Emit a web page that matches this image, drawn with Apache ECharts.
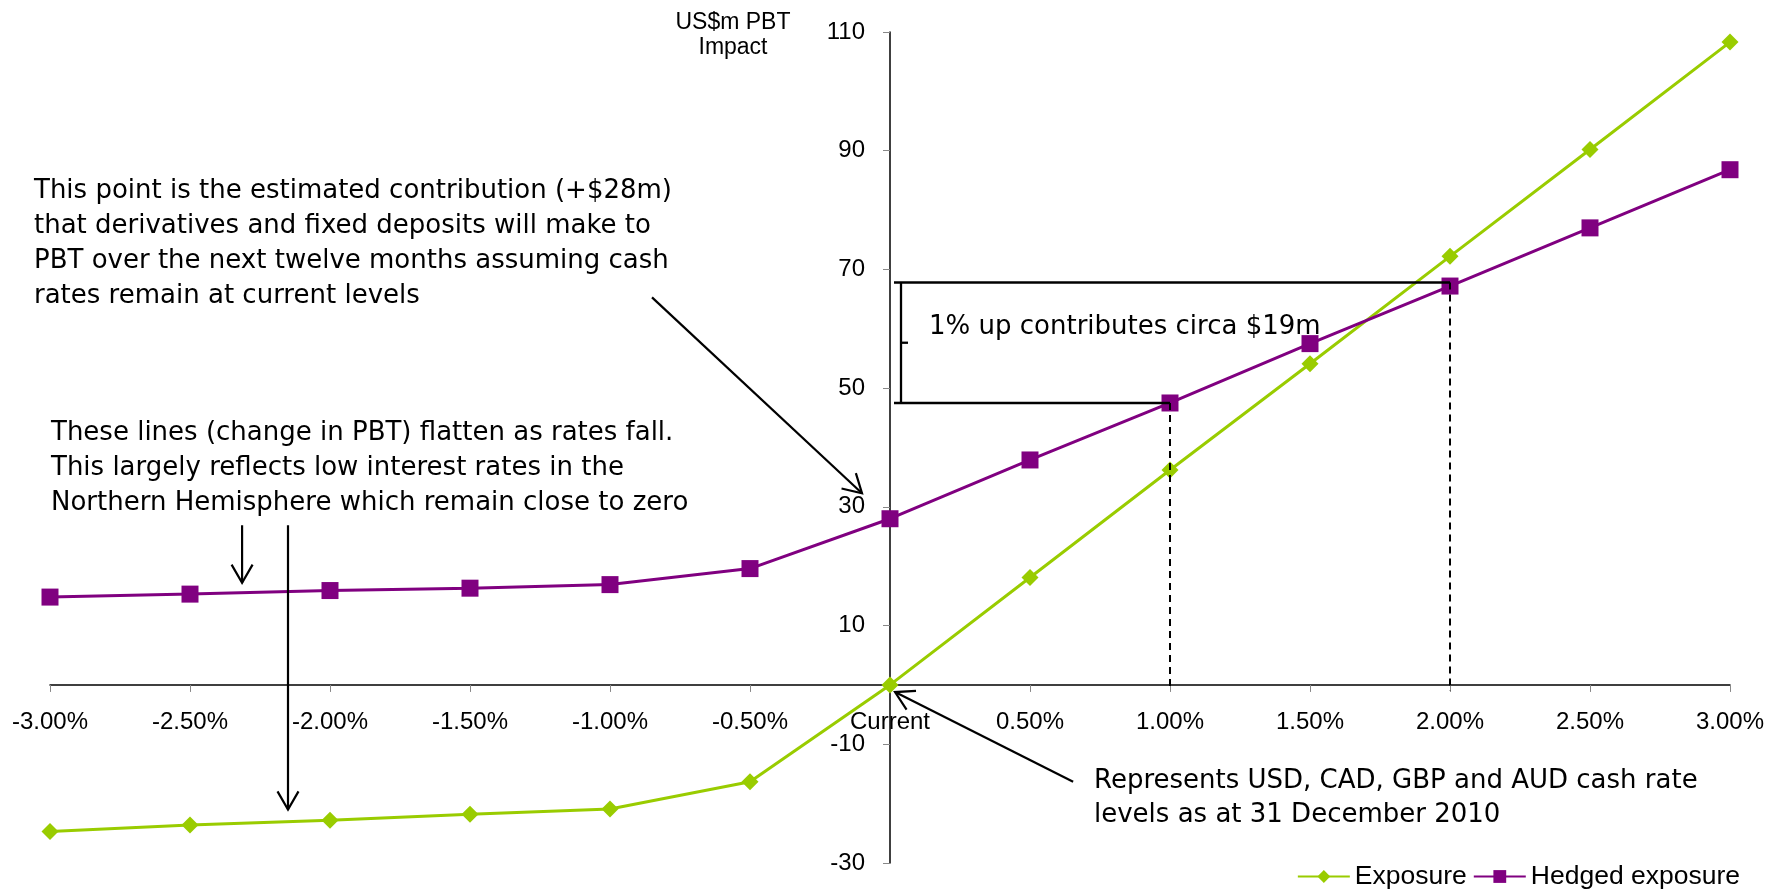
<!DOCTYPE html>
<html lang="en">
<head>
<meta charset="UTF-8">
<title>US$m PBT Impact</title>
<script src="https://cdn.jsdelivr.net/npm/echarts@6.0.0/dist/echarts.min.js"></script>
<style>
  html, body { margin: 0; padding: 0; width: 100%; height: 100%; background: #fff; overflow: hidden; }
  #chart { width: 1776px; height: 889px; }
</style>
</head>
<body>
<div id="chart"></div>
<script>
// rate moves (x) and their tick labels
var rates = [-3, -2.5, -2, -1.5, -1, -0.5, 0, 0.5, 1, 1.5, 2, 2.5, 3];
var rateLabels = ['-3.00%', '-2.50%', '-2.00%', '-1.50%', '-1.00%', '-0.50%', 'Current',
                  '0.50%', '1.00%', '1.50%', '2.00%', '2.50%', '3.00%'];
// US$m PBT impact
var exposure = [-24.7, -23.6, -22.8, -21.8, -20.9, -16.3, 0, 18.1, 36.2, 54.1, 72.2, 90.2, 108.3];
var hedged   = [14.8, 15.3, 15.9, 16.3, 16.9, 19.6, 28.0, 37.9, 47.5, 57.5, 67.2, 77.0, 86.8];
// levels used by the "1% up" bracket
var bracketLevels = [47.5, 67.8];

var GREEN = '#99cc00';
var PURPLE = '#800080';
var NOTE_FONT = '"DejaVu Sans", Tahoma, sans-serif';
var AXIS_FONT = '"Liberation Sans", Arial, sans-serif';

var W = 1776, H = 889;
var gridBox = { left: 50, right: 46, top: 32, bottom: 26 };
var yMin = -30, yMax = 110, xMin = -3, xMax = 3;
// axes cross at zero, so shift them into the plot (labels move with them)
var gridW = W - gridBox.left - gridBox.right;
var gridH = H - gridBox.top - gridBox.bottom;
var xAxisShift = -gridH * (0 - yMin) / (yMax - yMin);
var yAxisShift = -gridW * (0 - xMin) / (xMax - xMin);

function pairs(ys) {
    return rates.map(function (r, i) { return [r, ys[i]]; });
}

var chart = echarts.init(document.getElementById('chart'));

chart.setOption({
    backgroundColor: '#fff',
    animation: false,
    grid: gridBox,
    legend: {
        right: 31,
        top: 858,
        itemWidth: 52,
        itemHeight: 16,
        itemGap: 6,
        textStyle: { fontFamily: AXIS_FONT, fontSize: 26.5, color: '#000' },
        data: ['Exposure', 'Hedged exposure']
    },
    xAxis: {
        type: 'value',
        min: xMin,
        max: xMax,
        interval: 0.5,
        offset: xAxisShift,
        splitLine: { show: false },
        axisLine: { onZero: false, lineStyle: { color: '#000', width: 1.5 } },
        axisTick: { show: true, length: 7, lineStyle: { color: '#888' } },
        axisLabel: {
            margin: 25,
            color: '#000',
            fontFamily: AXIS_FONT,
            fontSize: 24,
            formatter: function (v) {
                var i = rates.indexOf(Math.round(v * 2) / 2);
                return i >= 0 ? rateLabels[i] : '';
            }
        }
    },
    yAxis: {
        type: 'value',
        min: yMin,
        max: yMax,
        interval: 20,
        offset: yAxisShift,
        splitLine: { show: false },
        axisLine: { show: true, onZero: false, lineStyle: { color: '#000', width: 1.5 } },
        axisTick: { show: true, length: 7, lineStyle: { color: '#888' } },
        axisLabel: { margin: 25, color: '#000', fontFamily: AXIS_FONT, fontSize: 24 }
    },
    series: [
        {
            name: 'Exposure',
            type: 'line',
            data: pairs(exposure),
            symbol: 'diamond',
            symbolSize: 17,
            itemStyle: { color: GREEN },
            lineStyle: { color: GREEN, width: 3 },
            z: 3
        },
        {
            name: 'Hedged exposure',
            type: 'line',
            data: pairs(hedged),
            symbol: 'rect',
            symbolSize: 17,
            itemStyle: { color: PURPLE },
            lineStyle: { color: PURPLE, width: 3 },
            z: 4
        }
    ]
});

function px(x, y) {
    return chart.convertToPixel({ gridIndex: 0 }, [x, y]);
}

function arrow(from, to) {
    var a = px(from[0], from[1]);
    var b = px(to[0], to[1]);
    var dx = b[0] - a[0], dy = b[1] - a[1];
    var len = Math.sqrt(dx * dx + dy * dy);
    var ux = dx / len, uy = dy / len;
    var h = 21, c = Math.cos(Math.PI / 6), s = Math.sin(Math.PI / 6);
    var l = [b[0] - h * (ux * c - uy * s), b[1] - h * (uy * c + ux * s)];
    var r = [b[0] - h * (ux * c + uy * s), b[1] - h * (uy * c - ux * s)];
    var style = { stroke: '#000', lineWidth: 2.2, fill: null };
    return [
        { type: 'line', shape: { x1: a[0], y1: a[1], x2: b[0], y2: b[1] }, style: style, z: 20 },
        { type: 'polyline', shape: { points: [l, b, r] }, style: style, z: 20 }
    ];
}

function note(text, left, top, lh) {
    return {
        type: 'text', left: left, top: top, z: 20,
        style: { text: text, font: '26px ' + NOTE_FONT, fill: '#000', lineHeight: lh }
    };
}

var lo = bracketLevels[0], hi = bracketLevels[1];
var p0lo = px(0, lo), p0hi = px(0, hi);
var p1 = px(1, lo), p2 = px(2, hi);
var axisY = px(0, -1)[1];
var solid = { stroke: '#000', lineWidth: 2.3 };
var dashed = { stroke: '#000', lineWidth: 2, lineDash: [7, 5] };
var bx = p0lo[0] + 11;

var g = [
    // horizontal levels
    { type: 'line', shape: { x1: p0hi[0] + 4, y1: p0hi[1], x2: p2[0], y2: p2[1] }, style: solid, z: 5 },
    { type: 'line', shape: { x1: p0lo[0] + 4, y1: p0lo[1], x2: p1[0], y2: p1[1] }, style: solid, z: 5 },
    // dashed drops
    { type: 'line', shape: { x1: p1[0], y1: p1[1], x2: p1[0], y2: axisY }, style: dashed, z: 5 },
    { type: 'line', shape: { x1: p2[0], y1: p2[1], x2: p2[0], y2: axisY }, style: dashed, z: 5 },
    // bracket
    { type: 'line', shape: { x1: bx, y1: p0hi[1], x2: bx, y2: p0lo[1] }, style: solid, z: 5 },
    { type: 'line', shape: { x1: bx, y1: (p0hi[1] + p0lo[1]) / 2, x2: bx + 7, y2: (p0hi[1] + p0lo[1]) / 2 }, style: solid, z: 5 },
    // axis title
    {
        type: 'text', x: 733, y: 10, z: 20,
        style: { text: 'US$m PBT\nImpact', font: '23px ' + AXIS_FONT, fill: '#000', align: 'center', lineHeight: 25 }
    },
    note('This point is the estimated contribution (+$28m)\nthat derivatives and fixed deposits will make to\nPBT over the next twelve months assuming cash\nrates remain at current levels', 34, 174, 35),
    note('These lines (change in PBT) flatten as rates fall.\nThis largely reflects low interest rates in the\nNorthern Hemisphere which remain close to zero', 51, 416, 35),
    note('Represents USD, CAD, GBP and AUD cash rate\nlevels as at 31 December 2010', 1094, 764, 34),
    note('1% up contributes circa $19m', 929, 310, 35)
];

g = g.concat(arrow([-0.85, 65.3], [-0.1, 32.3]));
g = g.concat(arrow([-2.314, 26.9], [-2.314, 17.2]));
g = g.concat(arrow([-2.15, 26.9], [-2.15, -21.0]));
g = g.concat(arrow([0.654, -16.3], [0.018, -1.2]));

chart.setOption({ graphic: g });
</script>
</body>
</html>
